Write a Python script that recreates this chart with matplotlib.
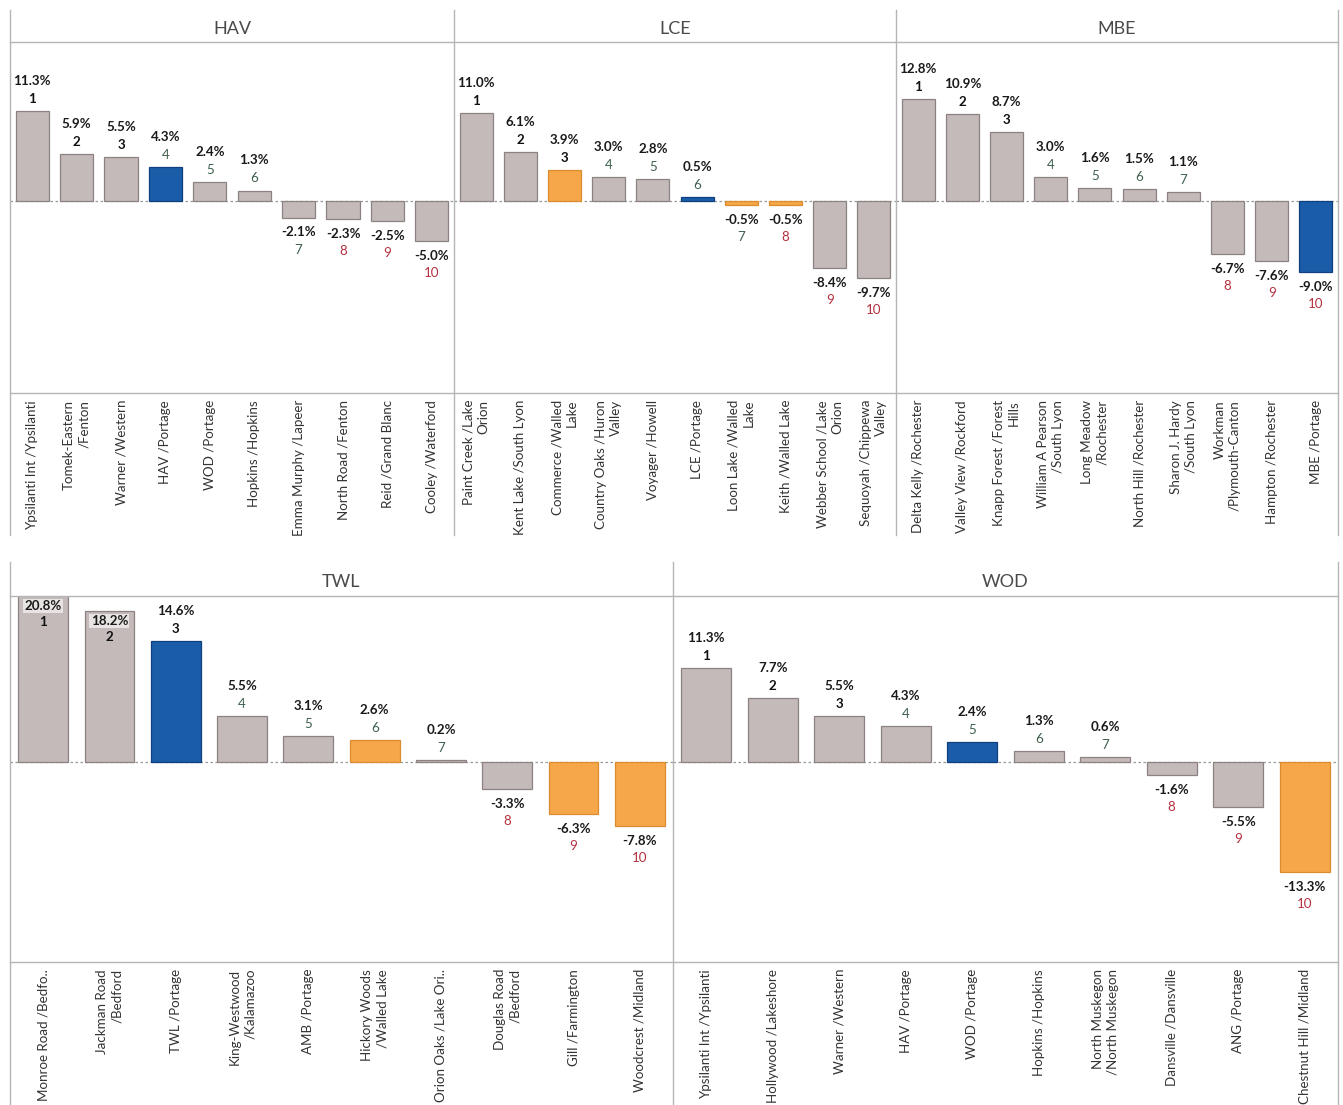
import matplotlib.pyplot as plt
from matplotlib.lines import Line2D

plt.rcParams['font.family'] = ['Lato', 'DejaVu Sans']

# --- data (percent change, rank = order) ---
hav_names = ['Ypsilanti Int /Ypsilanti', 'Tomek-Eastern\n/Fenton', 'Warner /Western',
             'HAV /Portage', 'WOD /Portage', 'Hopkins /Hopkins', 'Emma Murphy /Lapeer',
             'North Road /Fenton', 'Reid /Grand Blanc', 'Cooley /Waterford']
hav_values = [11.3, 5.9, 5.5, 4.3, 2.4, 1.3, -2.1, -2.3, -2.5, -5.0]
hav_groups = ['g', 'g', 'g', 'b', 'g', 'g', 'g', 'g', 'g', 'g']

lce_names = ['Paint Creek /Lake\nOrion', 'Kent Lake /South Lyon', 'Commerce /Walled\nLake',
             'Country Oaks /Huron\nValley', 'Voyager /Howell', 'LCE /Portage',
             'Loon Lake /Walled\nLake', 'Keith /Walled Lake', 'Webber School /Lake\nOrion',
             'Sequoyah /Chippewa\nValley']
lce_values = [11.0, 6.1, 3.9, 3.0, 2.8, 0.5, -0.5, -0.5, -8.4, -9.7]
lce_groups = ['g', 'g', 'o', 'g', 'g', 'b', 'o', 'o', 'g', 'g']

mbe_names = ['Delta Kelly /Rochester', 'Valley View /Rockford', 'Knapp Forest /Forest\nHills',
             'William A Pearson\n/South Lyon', 'Long Meadow\n/Rochester', 'North Hill /Rochester',
             'Sharon J. Hardy\n/South Lyon', 'Workman\n/Plymouth-Canton', 'Hampton /Rochester',
             'MBE /Portage']
mbe_values = [12.8, 10.9, 8.7, 3.0, 1.6, 1.5, 1.1, -6.7, -7.6, -9.0]
mbe_groups = ['g', 'g', 'g', 'g', 'g', 'g', 'g', 'g', 'g', 'b']

twl_names = ['Monroe Road /Bedfo..', 'Jackman Road\n/Bedford', 'TWL /Portage',
             'King-Westwood\n/Kalamazoo', 'AMB /Portage', 'Hickory Woods\n/Walled Lake',
             'Orion Oaks /Lake Ori..', 'Douglas Road\n/Bedford', 'Gill /Farmington',
             'Woodcrest /Midland']
twl_values = [20.8, 18.2, 14.6, 5.5, 3.1, 2.6, 0.2, -3.3, -6.3, -7.8]
twl_groups = ['g', 'g', 'b', 'g', 'g', 'o', 'g', 'g', 'o', 'o']

wod_names = ['Ypsilanti Int /Ypsilanti', 'Hollywood /Lakeshore', 'Warner /Western',
             'HAV /Portage', 'WOD /Portage', 'Hopkins /Hopkins', 'North Muskegon\n/North Muskegon',
             'Dansville /Dansville', 'ANG /Portage', 'Chestnut Hill /Midland']
wod_values = [11.3, 7.7, 5.5, 4.3, 2.4, 1.3, 0.6, -1.6, -5.5, -13.3]
wod_groups = ['g', 'g', 'g', 'g', 'b', 'g', 'g', 'g', 'g', 'o']

face = {'g': '#c5baba', 'b': '#1b5ca8', 'o': '#f6a74a'}
edge = {'g': '#8d8282', 'b': '#0e3f7e', 'o': '#dc8c30'}

W, H = 1343, 1105
fig = plt.figure(figsize=(W / 100, H / 100), dpi=100)


def px_axes(x0, y0, x1, y1):
    return fig.add_axes([x0 / W, 1 - y1 / H, (x1 - x0) / W, (y1 - y0) / H])


def rank_color(r):
    if r <= 3:
        return '#111111'
    if r <= 7:
        return '#3d5f4c'
    return '#b3303f'


def panel(title, names, values, groups, x0, x1, ytop, yhead, ybase, ybot):
    fig.text((x0 + x1) / 2 / W, 1 - ((ytop + yhead) / 2 + 3) / H, title,
             ha='center', va='center', fontsize=13, color='#4a4a4a')
    ax = px_axes(x0, yhead, x1, ybase)
    xs = range(len(values))
    ax.bar(xs, values, width=0.75,
           color=[face[g] for g in groups], edgecolor=[edge[g] for g in groups], linewidth=0.9)
    ax.axhline(0, color='#999999', lw=0.9, ls=(0, (2, 2)), zorder=0)
    ax.set_xlim(-0.5, len(values) - 0.5)
    ax.set_ylim(-24.2, 20.0)
    ax.set_xticks(list(xs))
    ax.set_xticklabels(names, rotation=90, ha='center', va='top', multialignment='right',
                       fontsize=9.6, color='#333333', linespacing=1.3)
    ax.tick_params(axis='x', length=0, pad=5)
    ax.set_yticks([])
    for s in ax.spines.values():
        s.set_visible(False)
    for i, v in enumerate(values):
        rank = i + 1
        fw = 'bold' if rank <= 3 else 'normal'
        if v >= 0:
            top = min(v, 20.0)
            off_p, off_r = 30, 12
            # no room above the bar: put the labels just inside its top
            ytop_px = ax.transData.transform((0, top))[1]
            ax_top = ax.transAxes.transform((0, 1))[1]
            if ytop_px + 40 > ax_top:
                off_p, off_r = -10, -26
                bb = dict(boxstyle='square,pad=0.1', fc='#e9e4e4', ec='none')
            else:
                bb = None
            ax.annotate(f'{v:.1f}%', (i, top), xytext=(0, off_p), textcoords='offset pixels',
                        ha='center', va='center', fontsize=9.6, fontweight='bold',
                        color='#1a1a1a', bbox=bb, annotation_clip=False)
            ax.annotate(str(rank), (i, top), xytext=(0, off_r), textcoords='offset pixels',
                        ha='center', va='center', fontsize=9.6, fontweight=fw,
                        color=rank_color(rank), annotation_clip=False)
        else:
            ax.annotate(f'{v:.1f}%', (i, v), xytext=(0, -15), textcoords='offset pixels',
                        ha='center', va='center', fontsize=9.6, fontweight='bold',
                        color='#1a1a1a')
            ax.annotate(str(rank), (i, v), xytext=(0, -32), textcoords='offset pixels',
                        ha='center', va='center', fontsize=9.6, fontweight=fw,
                        color=rank_color(rank))
    return ax


def hline(y, x0, x1):
    fig.add_artist(Line2D([x0 / W, x1 / W], [1 - y / H, 1 - y / H], color='#b5b5b5', lw=1))


def vline(x, y0, y1):
    fig.add_artist(Line2D([x / W, x / W], [1 - y0 / H, 1 - y1 / H], color='#b5b5b5', lw=1))


# top row
top_edges = [10, 454, 896, 1338]
panel('HAV', hav_names, hav_values, hav_groups, 10, 454, 10, 42, 393, 535)
panel('LCE', lce_names, lce_values, lce_groups, 454, 896, 10, 42, 393, 535)
panel('MBE', mbe_names, mbe_values, mbe_groups, 896, 1338, 10, 42, 393, 535)
for x in top_edges:
    vline(x, 10, 535)
hline(42, 10, 1338)
hline(393, 10, 1338)

# bottom row
bot_edges = [10, 673, 1338]
panel('TWL', twl_names, twl_values, twl_groups, 10, 673, 562, 596, 962, 1105)
panel('WOD', wod_names, wod_values, wod_groups, 673, 1338, 562, 596, 962, 1105)
for x in bot_edges:
    vline(x, 562, 1105)
hline(596, 10, 1338)
hline(962, 10, 1338)

fig.savefig('out.png', dpi=100, facecolor='white')
